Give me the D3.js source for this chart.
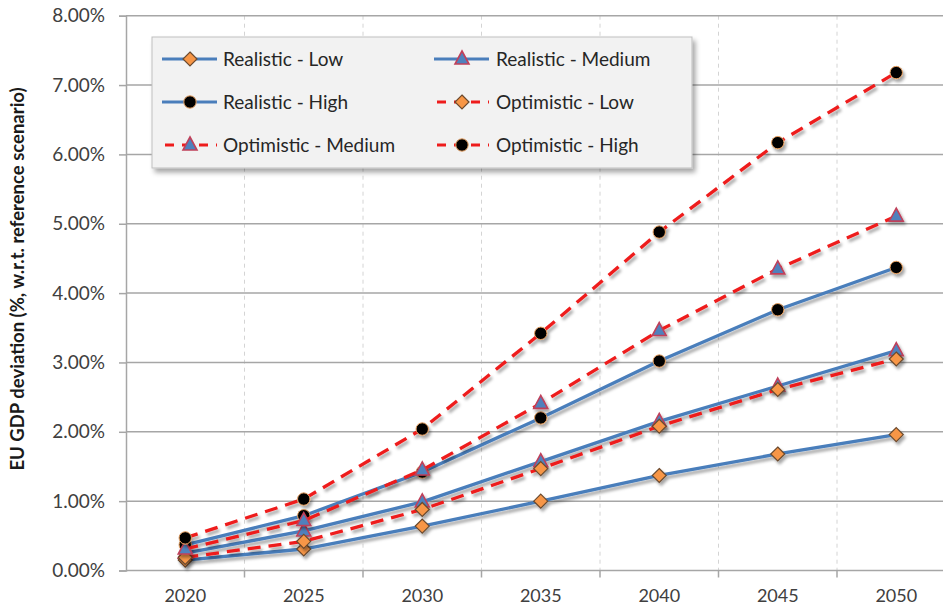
<!DOCTYPE html>
<html><head><meta charset="utf-8">
<script src="https://cdn.jsdelivr.net/npm/d3@7"></script>
<style>body{margin:0;background:#fff}svg{display:block}</style>
</head><body><svg id="c" width="943" height="610"></svg>
<script>
const years = ["2020","2025","2030","2035","2040","2045","2050"];
const yTicks = [0,1,2,3,4,5,6,7,8];
const seriesNames = ["Realistic - Low","Realistic - Medium","Realistic - High","Optimistic - Low","Optimistic - Medium","Optimistic - High"];
const realisticLow    = [0.15,0.31,0.64,1.00,1.37,1.68,1.96];
const realisticMedium = [0.25,0.57,0.99,1.57,2.15,2.66,3.17];
const realisticHigh   = [0.37,0.79,1.42,2.20,3.02,3.76,4.37];
const optimisticLow   = [0.19,0.42,0.88,1.47,2.08,2.61,3.05];
const optimisticMedium= [0.31,0.72,1.45,2.41,3.46,4.35,5.11];
const optimisticHigh  = [0.47,1.03,2.04,3.42,4.88,6.17,7.18];
const seriesValues = [realisticLow,realisticMedium,realisticHigh,optimisticLow,optimisticMedium,optimisticHigh];
const seriesDash = [false,false,false,true,true,true];
const seriesMarker = ["diamond","triangle","circle","diamond","triangle","circle"];

const svg = d3.select("#c");
const defs = svg.append("defs");
const f = defs.append("filter").attr("id","sh").attr("x","-20%").attr("y","-20%").attr("width","150%").attr("height","150%");
f.append("feDropShadow").attr("dx",2).attr("dy",3).attr("stdDeviation",1.8).attr("flood-color","#000").attr("flood-opacity",0.35);
const f2 = defs.append("filter").attr("id","sh2").attr("x","-5%").attr("y","-5%").attr("width","115%").attr("height","120%");
f2.append("feDropShadow").attr("dx",3).attr("dy",4).attr("stdDeviation",2.5).attr("flood-color","#000").attr("flood-opacity",0.35);

const x0 = 126, step = 118.5;
const x = d3.scaleBand().domain(years).range([x0, x0+step*years.length]).paddingInner(0).paddingOuter(0);
const y = d3.scaleLinear().domain([0,8]).range([570.5,15.7]);
const xc = d => x(d)+x.bandwidth()/2;

// vertical dashed gridlines at category boundaries
svg.append("g").selectAll("line").data(years.slice(1)).join("line")
  .attr("x1",d=>x(d)).attr("x2",d=>x(d)).attr("y1",y(8)).attr("y2",y(0))
  .attr("stroke","#d4d4d4").attr("stroke-width",1).attr("stroke-dasharray","4,4");
// horizontal gridlines
svg.append("g").selectAll("line").data(yTicks).join("line")
  .attr("x1",x0).attr("x2",943).attr("y1",d=>y(d)).attr("y2",d=>y(d))
  .attr("stroke","#a6a6a6").attr("stroke-width",1.5);

// y axis
const ya = svg.append("g").attr("transform",`translate(${x0},0)`)
  .call(d3.axisLeft(y).tickValues(yTicks).tickSize(7).tickPadding(14).tickFormat(d=>d.toFixed(2)+"%"));
ya.select(".domain").attr("stroke","#a6a6a6").attr("stroke-width",1.5);
ya.selectAll(".tick line").attr("stroke","#a6a6a6").attr("stroke-width",1.5);
ya.selectAll("text").attr("font-family","Lato").attr("font-size",19).attr("fill","#404040");

// x axis
const xa = svg.append("g").attr("transform",`translate(0,${y(0)})`)
  .call(d3.axisBottom(x).tickSize(0).tickPadding(19));
xa.select(".domain").remove();
xa.selectAll("text").attr("font-family","Lato").attr("font-size",18).attr("fill","#404040");
svg.append("g").selectAll("line").data(years.slice(1)).join("line")
  .attr("x1",d=>x(d)).attr("x2",d=>x(d)).attr("y1",y(0)).attr("y2",y(0)+7)
  .attr("stroke","#a6a6a6").attr("stroke-width",1.5);

// axis title
svg.append("text").attr("transform",`translate(24,279) rotate(-90)`)
  .attr("text-anchor","middle").attr("font-family","Lato").attr("font-weight","bold")
  .attr("font-size",18.5).attr("fill","#1a1a1a").text("EU GDP deviation (%, w.r.t. reference scenario)");

function drawMarker(g, type, cx, cy){
  if(type==="diamond"){
    g.append("path").attr("d",`M${cx},${cy-7}L${cx+7},${cy}L${cx},${cy+7}L${cx-7},${cy}Z`)
      .attr("fill","#f79646").attr("stroke","#6b4a2e").attr("stroke-width",1.2);
  } else if(type==="triangle"){
    g.append("path").attr("d",`M${cx},${cy-8}L${cx+7},${cy+5}L${cx-7},${cy+5}Z`)
      .attr("fill","#4f81bd").attr("stroke","#c0405a").attr("stroke-width",1.6);
  } else {
    g.append("circle").attr("cx",cx).attr("cy",cy).attr("r",6.2)
      .attr("fill","#000").attr("stroke","#e8a060").attr("stroke-width",1);
  }
}

const line = d3.line().x((d,i)=>xc(years[i])).y(d=>y(d));
seriesValues.forEach((vals,k)=>{
  const g = svg.append("g").attr("filter","url(#sh)");
  g.append("path").attr("d",line(vals)).attr("fill","none")
    .attr("stroke",seriesDash[k]?"#ee1c1c":"#4a7ebb").attr("stroke-width",3.3)
    .attr("stroke-dasharray",seriesDash[k]?"13,8":null);
  vals.forEach((v,i)=>drawMarker(g, seriesMarker[k], xc(years[i]), y(v)));
});

// legend
const lg = svg.append("g");
lg.append("rect").attr("x",152).attr("y",37).attr("width",540).attr("height",131)
  .attr("fill","#f2f2f2").attr("stroke","#bfbfbf").attr("stroke-width",1).attr("filter","url(#sh2)");
seriesNames.forEach((name,k)=>{
  const col = k%2, row = Math.floor(k/2);
  const sx = col===0?162:434, ty = 59+row*43;
  const g = lg.append("g");
  g.append("line").attr("x1",sx).attr("x2",sx+55).attr("y1",ty).attr("y2",ty)
    .attr("stroke",seriesDash[k]?"#ee1c1c":"#4a7ebb").attr("stroke-width",3)
    .attr("stroke-dasharray",seriesDash[k]?"9,8":null).attr("stroke-dashoffset",seriesDash[k]?-3:0);
  drawMarker(g, seriesMarker[k], sx+28, ty);
  g.append("text").attr("x",col===0?223:496).attr("y",ty+6.5).attr("font-family","Lato")
    .attr("font-size",19).attr("fill","#262626").text(name);
});
</script></body></html>
